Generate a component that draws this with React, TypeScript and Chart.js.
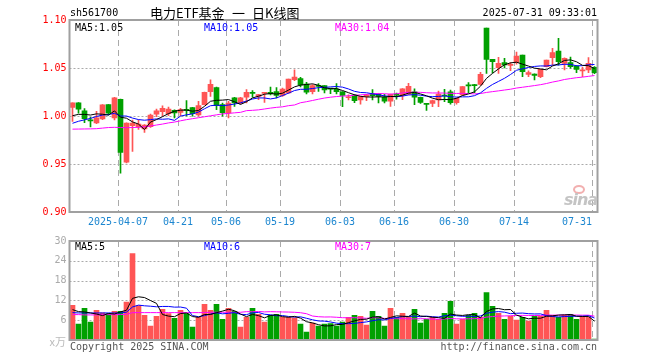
import React, { useEffect, useRef } from 'react';
import { Chart, registerables } from 'chart.js';

Chart.register(...registerables);

// ---------- data ----------
const dates = [
  '2025-03-25','2025-03-26','2025-03-27','2025-03-28','2025-03-31',
  '2025-04-01','2025-04-02','2025-04-03','2025-04-07','2025-04-08','2025-04-09','2025-04-10','2025-04-11',
  '2025-04-14','2025-04-15','2025-04-16','2025-04-17','2025-04-18','2025-04-21','2025-04-22','2025-04-23',
  '2025-04-24','2025-04-25','2025-04-28','2025-04-29','2025-04-30',
  '2025-05-06','2025-05-07','2025-05-08','2025-05-09','2025-05-12','2025-05-13','2025-05-14','2025-05-15',
  '2025-05-16','2025-05-19','2025-05-20','2025-05-21','2025-05-22','2025-05-23','2025-05-26','2025-05-27',
  '2025-05-28','2025-05-29','2025-05-30',
  '2025-06-03','2025-06-04','2025-06-05','2025-06-06','2025-06-09','2025-06-10','2025-06-11','2025-06-12',
  '2025-06-13','2025-06-16','2025-06-17','2025-06-18','2025-06-19','2025-06-20','2025-06-23','2025-06-24',
  '2025-06-25','2025-06-26','2025-06-27','2025-06-30',
  '2025-07-01','2025-07-02','2025-07-03','2025-07-04','2025-07-07','2025-07-08','2025-07-09','2025-07-10',
  '2025-07-11','2025-07-14','2025-07-15','2025-07-16','2025-07-17','2025-07-18','2025-07-21','2025-07-22',
  '2025-07-23','2025-07-24','2025-07-25','2025-07-28','2025-07-29','2025-07-30','2025-07-31',
];

const openP = [
  1.009, 1.0138, 1.0055, 0.9955, 0.9927, 0.997, 1.012, 0.998, 1.0173, 0.952,
  0.990, 0.989, 0.9866, 0.989, 1.002, 1.0045, 1.0024, 1.0059, 1.0038, 1.0065,
  1.0087, 1.001, 1.0118, 1.0254, 1.0295, 1.0118, 1.0031, 1.019, 1.0135, 1.0195,
  1.0238, 1.0205, 1.0236, 1.0247, 1.0254, 1.0215, 1.024, 1.0378, 1.0389, 1.0333,
  1.0254, 1.0314, 1.0316, 1.0284, 1.0281, 1.0253, 1.019, 1.0219, 1.0167, 1.0204,
  1.0228, 1.0228, 1.0197, 1.0155, 1.0222, 1.0215, 1.0228, 1.0253, 1.0194, 1.0125,
  1.0132, 1.0167, 1.0212, 1.0253, 1.0139, 1.0219, 1.0317, 1.032, 1.033, 1.0917,
  1.059, 1.0503, 1.0556, 1.0528, 1.0556, 1.0635, 1.0434, 1.0437, 1.041, 1.0514,
  1.0608, 1.0677, 1.0549, 1.0556, 1.0521, 1.047, 1.0479, 1.0507,
];
const highP = [
  1.0138, 1.014, 1.0076, 0.9985, 1.0048, 1.012, 1.012, 1.0195, 1.0175, 0.993,
  0.9958, 0.996, 0.991, 1.002, 1.0073, 1.0106, 1.0094, 1.0065, 1.008, 1.016,
  1.009, 1.0153, 1.025, 1.0378, 1.03, 1.0135, 1.0153, 1.0195, 1.0195, 1.0274,
  1.0264, 1.0225, 1.0242, 1.03, 1.0295, 1.029, 1.0385, 1.048, 1.0403, 1.035,
  1.0326, 1.0337, 1.0318, 1.0284, 1.0337, 1.0255, 1.022, 1.0222, 1.0205, 1.0225,
  1.0274, 1.023, 1.0225, 1.0228, 1.024, 1.0286, 1.034, 1.0283, 1.0197, 1.0132,
  1.0167, 1.026, 1.0278, 1.027, 1.019, 1.0306, 1.0347, 1.033, 1.0455, 1.0917,
  1.059, 1.0611, 1.06, 1.0556, 1.0667, 1.0635, 1.047, 1.044, 1.049, 1.0583,
  1.0705, 1.081, 1.0605, 1.0615, 1.0525, 1.0507, 1.0608, 1.0515,
];
const lowP = [
  0.9944, 1.003, 0.993, 0.9885, 0.992, 0.9962, 1.001, 0.996, 0.9405, 0.951,
  0.963, 0.986, 0.983, 0.988, 0.9993, 1.0, 1.0003, 0.998, 1.0, 1.0,
  0.9997, 1.0, 1.0115, 1.0205, 1.0066, 0.9997, 0.998, 1.01, 1.0125, 1.0135,
  1.0195, 1.017, 1.0142, 1.022, 1.0188, 1.0205, 1.0235, 1.0368, 1.0302, 1.023,
  1.023, 1.0257, 1.024, 1.0233, 1.023, 1.0097, 1.0167, 1.0139, 1.0124, 1.016,
  1.0167, 1.0135, 1.0135, 1.01, 1.0176, 1.017, 1.0222, 1.0117, 1.013, 1.0058,
  1.0097, 1.0097, 1.015, 1.0122, 1.0122, 1.0215, 1.0243, 1.0243, 1.032, 1.0444,
  1.045, 1.0444, 1.05, 1.0472, 1.054, 1.041, 1.041, 1.0375, 1.04, 1.051,
  1.053, 1.053, 1.048, 1.0497, 1.0451, 1.041, 1.0451, 1.044,
];
const closeP = [
  1.0138, 1.0072, 0.9972, 0.995, 0.998, 1.0117, 1.003, 1.019, 0.962, 0.9927,
  0.9927, 0.9915, 0.9906, 1.001, 1.0055, 1.008, 1.0073, 1.0031, 1.0066, 1.0058,
  1.0024, 1.0108, 1.0247, 1.033, 1.0108, 1.0035, 1.0135, 1.0135, 1.019, 1.0247,
  1.0235, 1.0222, 1.024, 1.0229, 1.0215, 1.0281, 1.0385, 1.0406, 1.0323, 1.0247,
  1.0316, 1.0309, 1.0271, 1.028, 1.0254, 1.0215, 1.0195, 1.016, 1.0201, 1.0221,
  1.0211, 1.0204, 1.0155, 1.0225, 1.0218, 1.0284, 1.0308, 1.0197, 1.0142, 1.0121,
  1.016, 1.0229, 1.0208, 1.0139, 1.0184, 1.0306, 1.0313, 1.0316, 1.0434, 1.059,
  1.0566, 1.0549, 1.0531, 1.0531, 1.0625, 1.0462, 1.0451, 1.0424, 1.0486, 1.0583,
  1.066, 1.0566, 1.06, 1.0514, 1.0486, 1.0472, 1.0549, 1.0451,
];
// volume, 万手
const volume = [
  10.5, 4.8, 9.6, 5.4, 9.0, 8.2, 8.0, 8.7, 8.7, 11.5,
  26.2, 10.4, 7.5, 4.2, 7.2, 9.3, 8.0, 6.6, 9.0, 8.0,
  3.9, 6.9, 10.8, 9.0, 10.8, 6.3, 9.6, 8.7, 3.9, 6.9,
  9.6, 7.8, 5.4, 7.5, 7.8, 6.9, 6.9, 6.7, 4.8, 2.4,
  5.1, 4.2, 4.8, 5.0, 4.2, 5.4, 6.9, 7.5, 7.2, 4.5,
  8.7, 7.2, 4.2, 9.6, 6.9, 8.1, 6.9, 9.3, 5.1, 6.3,
  6.9, 6.3, 8.1, 11.7, 4.8, 6.3, 7.5, 8.1, 6.9, 14.4,
  10.2, 8.1, 6.3, 7.2, 6.0, 6.9, 5.7, 7.2, 7.2, 9.0,
  7.5, 6.9, 7.5, 7.8, 6.3, 7.2, 6.9, 0.3,
];

const ma5Lead = [1.0003, 1.0017, 1.0017, 1.001];
const ma10Lead = [0.9924, 0.9945, 0.996, 0.9975, 0.9995, 1.001, 1.0015, 1.0028, 1.0];
const ma30Lead = [
  0.9863, 0.9864, 0.9865, 0.9866, 0.9868, 0.9874, 0.988, 0.9882, 0.988, 0.9878,
  0.988, 0.9882, 0.9888, 0.9896, 0.9906, 0.9916, 0.9928, 0.9937, 0.995, 0.9962,
  0.9972, 0.9982, 0.9992, 1.0002, 1.0012, 1.0022, 1.0027, 1.0033, 1.0038,
];
const vma5Lead = [9.2, 8.6, 8.5, 8.2];
const vma10Lead = [8.3, 8.2, 8.2, 8.2, 8.2, 8.2, 8.2, 8.2, 8.2];
const vma30Lead = [
  7.7, 7.7, 7.6, 7.6, 7.6, 7.7, 7.7, 7.7, 7.7, 7.8,
  8.3, 8.3, 8.3, 8.3, 8.3, 8.3, 8.3, 8.3, 8.3, 8.3,
  8.3, 8.3, 8.3, 8.4, 8.4, 8.4, 8.4, 8.4, 8.4,
];

const tickDates = ['2025-04-07','2025-04-21','2025-05-06','2025-05-19','2025-06-03','2025-06-16','2025-06-30','2025-07-14','2025-07-31'];
const tickLabels = ['2025-04-07','04-21','05-06','05-19','06-03','06-16','06-30','07-14','07-31'];
const priceTicks = [0.9, 0.95, 1.0, 1.05, 1.1];
const priceGrid = [0.95, 1.0, 1.05];
const volTicks = [0, 6, 12, 18, 24, 30];
const volGrid = [6, 12, 18, 24];

const stockCode = 'sh561700';
const titleParts = ['电力ETF基金', '一', '日K线图'];
const timestamp = '2025-07-31 09:33:01';
const priceMaLabels = ['MA5:1.05', 'MA10:1.05', 'MA30:1.04'];
const volMaLabels = ['MA5:5', 'MA10:6', 'MA30:7'];
const volUnit = 'x万';
const copyright = 'Copyright 2025 SINA.COM';
const siteUrl = 'http://finance.sina.com.cn';
const watermark = 'sina';

// ---------- style ----------
const RED = '#ff5555';
const GREEN = '#00a000';
const MA_COLORS = ['#000000', '#0000ff', '#ff00ff'];
const MONO = '"DejaVu Sans Mono", "Liberation Mono", monospace';
const CJK = '"Noto Sans CJK SC", sans-serif';

function movingAvg(src: number[], n: number, lead: number[]): number[] {
  return src.map((_, i) => {
    if (i < n - 1) return lead[i];
    let s = 0;
    for (let k = i - n + 1; k <= i; k++) s += src[k];
    return s / n;
  });
}

function gridPlugin(hVals: number[]) {
  return {
    id: 'sinaGrid',
    beforeDatasetsDraw(chart: any) {
      const { ctx, chartArea: a, scales } = chart;
      const x = scales.x;
      const y = scales.y;
      ctx.save();
      ctx.lineWidth = 1;
      ctx.strokeStyle = '#aaaaaa';
      ctx.setLineDash([2, 2]);
      for (const v of hVals) {
        const py = Math.round(y.getPixelForValue(v)) + 0.5;
        ctx.beginPath();
        ctx.moveTo(a.left, py);
        ctx.lineTo(a.right, py);
        ctx.stroke();
      }
      ctx.setLineDash([6, 4]);
      for (const d of tickDates) {
        const i = dates.indexOf(d);
        const px = Math.round(x.getPixelForValue(i) - 2.5) + 0.5;
        ctx.beginPath();
        ctx.moveTo(px, a.top);
        ctx.lineTo(px, a.bottom);
        ctx.stroke();
      }
      ctx.restore();
    },
    afterDatasetsDraw(chart: any) {
      const { ctx, chartArea: a } = chart;
      ctx.save();
      ctx.setLineDash([]);
      ctx.strokeStyle = '#a0a0a0';
      ctx.lineWidth = 2;
      ctx.strokeRect(a.left, a.top, a.right - a.left, a.bottom - a.top);
      ctx.restore();
    },
  };
}

function maLine(data: number[], color: string) {
  return {
    type: 'line' as const,
    data,
    borderColor: color,
    borderWidth: 1,
    pointRadius: 0,
    tension: 0,
    fill: false,
    order: 0,
  };
}

const Txt = (p: { x: number; cy: number; text: string; color?: string; size?: number; family?: string; right?: boolean; style?: any }) => {
  const size = p.size ?? 10;
  const lh = Math.round(size * 1.3);
  const pos: any = p.right ? { right: 660 - p.x } : { left: p.x };
  return (
    <div
      style={{
        position: 'absolute',
        top: p.cy - lh / 2,
        ...pos,
        fontFamily: p.family ?? MONO,
        fontSize: size,
        lineHeight: lh + 'px',
        color: p.color ?? '#000',
        whiteSpace: 'pre',
        ...(p.style || {}),
      }}
    >
      {p.text}
    </div>
  );
};

export default function App() {
  const mainRef = useRef<HTMLCanvasElement>(null);
  const volRef = useRef<HTMLCanvasElement>(null);

  useEffect(() => {
    const colors = closeP.map((c, i) => (c >= openP[i] ? RED : GREEN));
    const bodies = closeP.map((c, i) => [Math.min(c, openP[i]), Math.max(c, openP[i])]);
    const wicks = lowP.map((l, i) => [l, highP[i]]);
    const ma5 = movingAvg(closeP, 5, ma5Lead);
    const ma10 = movingAvg(closeP, 10, ma10Lead);
    const ma30 = movingAvg(closeP, 30, ma30Lead);
    const vma5 = movingAvg(volume, 5, vma5Lead);
    const vma10 = movingAvg(volume, 10, vma10Lead);
    const vma30 = movingAvg(volume, 30, vma30Lead);

    const tickFont = { family: MONO, size: 10 };

    const main = new Chart(mainRef.current as HTMLCanvasElement, {
      type: 'bar',
      data: {
        labels: dates,
        datasets: [
          maLine(ma5, MA_COLORS[0]),
          maLine(ma10, MA_COLORS[1]),
          maLine(ma30, MA_COLORS[2]),
          {
            type: 'bar',
            data: bodies as any,
            backgroundColor: colors,
            borderWidth: 0,
            barThickness: 5,
            grouped: false,
            minBarLength: 1,
            order: 1,
          } as any,
          {
            type: 'bar',
            data: wicks as any,
            backgroundColor: colors,
            borderWidth: 0,
            barThickness: 1,
            grouped: false,
            order: 2,
          } as any,
        ],
      },
      options: {
        animation: false,
        responsive: false,
        maintainAspectRatio: false,
        events: [],
        layout: { padding: { top: 20, right: 62.5, left: 0, bottom: 0 }, autoPadding: false } as any,
        plugins: { legend: { display: false }, tooltip: { enabled: false } },
        scales: {
          x: {
            type: 'category',
            offset: true,
            grid: { display: false, drawTicks: false },
            border: { display: false },
            ticks: {
              autoSkip: false,
              maxRotation: 0,
              minRotation: 0,
              align: 'inner',
              labelOffset: -2.5,
              padding: 4,
              color: '#1c86d0',
              font: tickFont,
              callback: (_v: any, i: number) => {
                const k = tickDates.indexOf(dates[i]);
                return k >= 0 ? tickLabels[k] : '';
              },
            },
            afterFit: (s: any) => {
              s.height = 20;
            },
          },
          y: {
            type: 'linear',
            min: 0.9,
            max: 1.1,
            grid: { display: false, drawTicks: false },
            border: { display: false },
            ticks: {
              padding: 3,
              color: '#ff0000',
              font: tickFont,
              callback: (v: any) => Number(v).toFixed(2),
            },
            afterBuildTicks: (s: any) => {
              s.ticks = priceTicks.map((v) => ({ value: v }));
            },
            afterFit: (s: any) => {
              s.width = 69.5;
            },
          },
        } as any,
      },
      plugins: [gridPlugin(priceGrid)],
    });

    const vol = new Chart(volRef.current as HTMLCanvasElement, {
      type: 'bar',
      data: {
        labels: dates,
        datasets: [
          maLine(vma5, MA_COLORS[0]),
          maLine(vma10, MA_COLORS[1]),
          maLine(vma30, MA_COLORS[2]),
          {
            type: 'bar',
            data: volume,
            backgroundColor: colors,
            borderWidth: 0,
            barThickness: 5,
            grouped: false,
            order: 1,
          } as any,
        ],
      },
      options: {
        animation: false,
        responsive: false,
        maintainAspectRatio: false,
        events: [],
        layout: { padding: { top: 8, right: 62.5, left: 0, bottom: 20 }, autoPadding: false } as any,
        plugins: { legend: { display: false }, tooltip: { enabled: false } },
        scales: {
          x: { type: 'category', offset: true, display: false },
          y: {
            type: 'linear',
            min: 0,
            max: 30,
            grid: { display: false, drawTicks: false },
            border: { display: false },
            ticks: {
              padding: 3,
              color: '#aaaaaa',
              font: tickFont,
              callback: (v: any) => (Number(v) === 0 ? '' : String(v)),
            },
            afterBuildTicks: (s: any) => {
              s.ticks = volTicks.map((v) => ({ value: v }));
            },
            afterFit: (s: any) => {
              s.width = 69.5;
            },
          },
        } as any,
      },
      plugins: [gridPlugin(volGrid)],
    });

    return () => {
      main.destroy();
      vol.destroy();
    };
  }, []);

  return (
    <div style={{ position: 'absolute', left: 0, top: 0, width: 660, height: 360, background: '#fff', overflow: 'hidden' }}>
      <canvas ref={mainRef} width={660} height={232} style={{ position: 'absolute', left: 0, top: 0 }} />
      <canvas ref={volRef} width={660} height={128} style={{ position: 'absolute', left: 0, top: 232 }} />

      <Txt x={70} cy={12} text={stockCode} />
      <Txt x={150} cy={12} text={titleParts[0]} size={13} family={CJK} />
      <Txt x={232} cy={12} text={titleParts[1]} size={13} family={CJK} />
      <Txt x={252} cy={12} text={titleParts[2]} size={13} family={CJK} />
      <Txt x={597} cy={12} text={timestamp} right />

      <Txt x={75} cy={27} text={priceMaLabels[0]} color={MA_COLORS[0]} />
      <Txt x={204} cy={27} text={priceMaLabels[1]} color={MA_COLORS[1]} />
      <Txt x={335} cy={27} text={priceMaLabels[2]} color={MA_COLORS[2]} />

      <Txt x={75} cy={246} text={volMaLabels[0]} color={MA_COLORS[0]} />
      <Txt x={204} cy={246} text={volMaLabels[1]} color={MA_COLORS[1]} />
      <Txt x={335} cy={246} text={volMaLabels[2]} color={MA_COLORS[2]} />

      <Txt x={66} cy={341} text={volUnit} color="#bbbbbb" size={11} family={CJK} right />
      <Txt x={70} cy={346} text={copyright} color="#555555" />
      <Txt x={597} cy={346} text={siteUrl} color="#555555" right />

      <div
        style={{
          position: 'absolute',
          left: 573,
          top: 185,
          width: 12,
          height: 9,
          borderRadius: '50%',
          border: '2px solid #f2b0b0',
          boxSizing: 'border-box',
        }}
      />
      <Txt
        x={564}
        cy={199}
        text={watermark}
        color="#c4c4c4"
        size={16}
        family='"DejaVu Sans", sans-serif'
        style={{ fontStyle: 'italic', fontWeight: 'bold', letterSpacing: '-1px' }}
      />
    </div>
  );
}
